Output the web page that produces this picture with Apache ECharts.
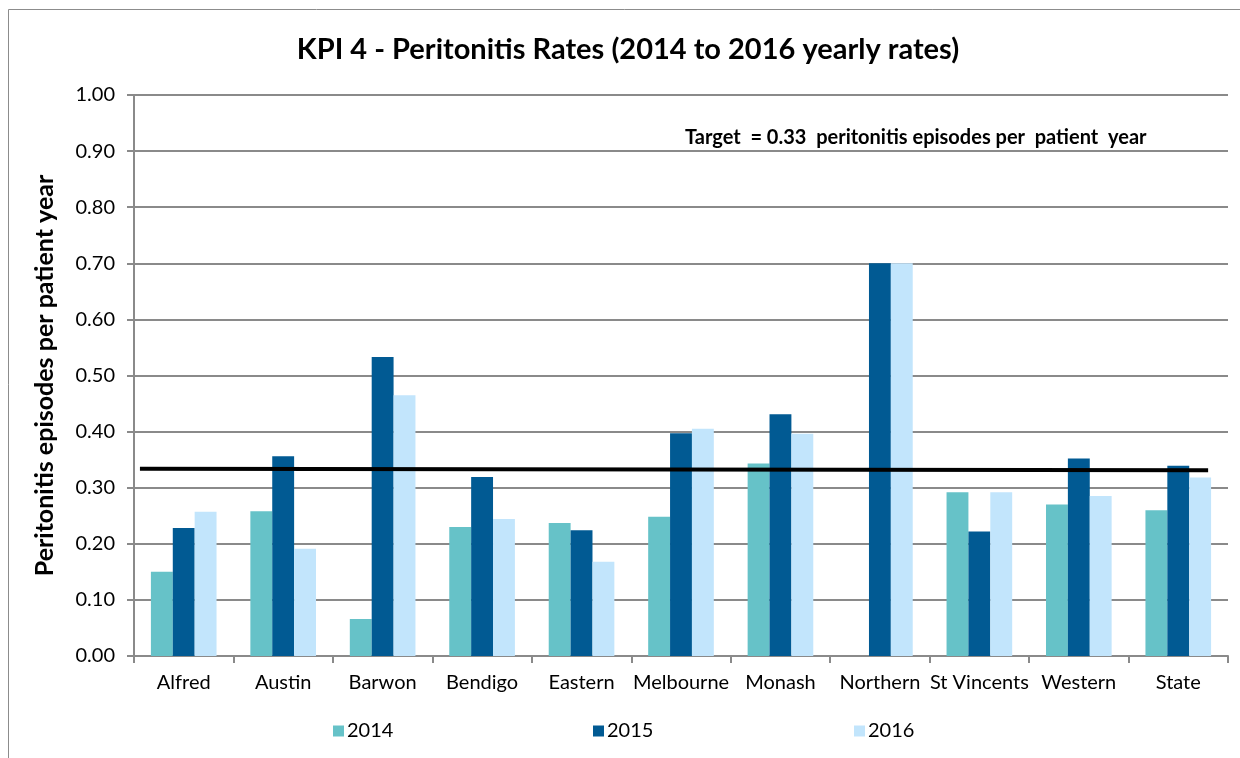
<!DOCTYPE html>
<html>
<head>
<meta charset="utf-8">
<script src="https://cdn.jsdelivr.net/npm/echarts@6/dist/echarts.min.js"></script>
<style>
html,body{margin:0;padding:0;background:#fff;}
#chart{width:1240px;height:758px;}
</style>
</head>
<body>
<div id="chart"></div>
<script>
const categories = ['Alfred','Austin','Barwon','Bendigo','Eastern','Melbourne','Monash','Northern','St Vincents','Western','State'];
const seriesNames = ['2014','2015','2016'];
const values2014 = [0.150,0.258,0.066,0.230,0.237,0.248,0.343,null,0.292,0.270,0.260];
const values2015 = [0.228,0.356,0.533,0.319,0.224,0.397,0.431,0.700,0.222,0.352,0.339];
const values2016 = [0.257,0.191,0.465,0.244,0.168,0.405,0.396,0.700,0.292,0.285,0.318];
const yTicks = [0,0.1,0.2,0.3,0.4,0.5,0.6,0.7,0.8,0.9,1.0];
const targetValue = 0.33;
const targetLine = [[0.06,0.334],[10.8,0.331]];
const titleText = 'KPI 4 - Peritonitis Rates (2014 to 2016 yearly rates)';
const targetText = 'Target  = 0.33  peritonitis episodes per  patient  year';
const yAxisTitle = 'Peritonitis episodes per patient year';

const FONT = 'Lato';
const colors = ['#66C2C8','#015A93','#C2E5FC'];
const legendLefts = [328, 588, 849];

const chart = echarts.init(document.getElementById('chart'));
chart.setOption({
  animation: false,
  backgroundColor: '#fff',
  title: {
    text: titleText,
    left: 623, top: 30, textAlign: 'center',
    textStyle: {fontFamily: FONT, fontWeight: 'bold', fontSize: 29, color: '#000'}
  },
  graphic: [
    {type: 'rect', left: 6, top: 7, shape: {width: 1240, height: 760},
     style: {fill: 'none', stroke: '#8c8c8c', lineWidth: 1}, silent: true, z: -1},
    {type: 'text', left: 685, top: 128,
     style: {text: targetText, fontFamily: FONT, fontWeight: 'bold', fontSize: 20, fill: '#000'}}
  ],
  legend: seriesNames.map((n, i) => ({
    data: [n],
    left: legendLefts[i], top: 716,
    itemWidth: 11, itemHeight: 11, itemGap: 0,
    icon: 'rect',
    textStyle: {fontFamily: FONT, fontSize: 20, color: '#000', padding: [0,0,0,-2]}
  })),
  grid: {left: 134, right: 12, top: 95, bottom: 102, containLabel: false},
  xAxis: [
    {
      type: 'category', data: categories,
      axisLine: {lineStyle: {color: '#8a8a8a', width: 2}},
      axisTick: {show: true, length: 7, lineStyle: {color: '#8a8a8a', width: 2}},
      axisLabel: {fontFamily: FONT, fontSize: 20, color: '#000', margin: 17, interval: 0}
    },
    {type: 'value', min: 0, max: 11, show: false}
  ],
  yAxis: {
    type: 'value', min: 0, max: 1, interval: 0.1,
    name: yAxisTitle, nameLocation: 'middle', nameGap: 77,
    nameTextStyle: {fontFamily: FONT, fontWeight: 'bold', fontSize: 25, color: '#000'},
    axisLine: {show: true, lineStyle: {color: '#8a8a8a', width: 2}},
    axisTick: {show: true, length: 7, lineStyle: {color: '#8a8a8a', width: 2}},
    axisLabel: {fontFamily: FONT, fontSize: 20, color: '#000', margin: 19,
      formatter: v => v.toFixed(2)},
    splitLine: {lineStyle: {color: '#8a8a8a', width: 2}}
  },
  series: [
    {name: seriesNames[0], type: 'bar', data: values2014, itemStyle: {color: colors[0]}, barGap: '0%', barCategoryGap: '34%'},
    {name: seriesNames[1], type: 'bar', data: values2015, itemStyle: {color: colors[1]}, barGap: '0%', barCategoryGap: '34%'},
    {name: seriesNames[2], type: 'bar', data: values2016, itemStyle: {color: colors[2]}, barGap: '0%', barCategoryGap: '34%'},
    {name: 'Target', type: 'line', xAxisIndex: 1, data: targetLine, symbol: 'none',
     lineStyle: {color: '#000', width: 4}, z: 5}
  ]
});
</script>
</body>
</html>
